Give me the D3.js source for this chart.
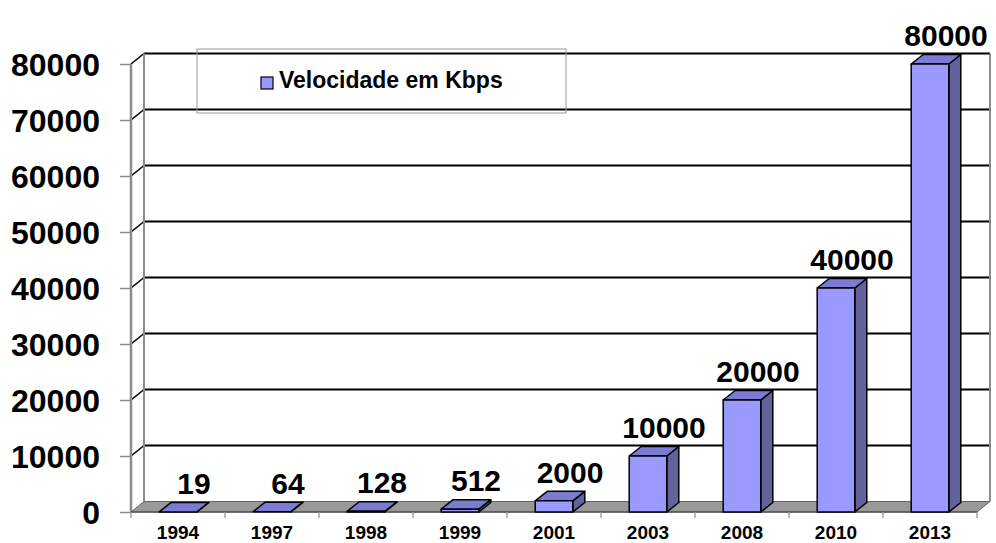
<!DOCTYPE html>
<html>
<head>
<meta charset="utf-8">
<script src="https://cdn.jsdelivr.net/npm/d3@7"></script>
<style>
  html, body { margin: 0; padding: 0; background: #fff; }
  svg { display: block; font-family: Arial, "Liberation Sans", sans-serif; }
</style>
</head>
<body>
<svg id="chart" width="996" height="543"></svg>
<script>
const categories = ["1994", "1997", "1998", "1999", "2001", "2003", "2008", "2010", "2013"];
const values = [19, 64, 128, 512, 2000, 10000, 20000, 40000, 80000];
const valueLabels = ["19", "64", "128", "512", "2000", "10000", "20000", "40000", "80000"];
const yTicks = [0, 10000, 20000, 30000, 40000, 50000, 60000, 70000, 80000];
const seriesName = "Velocidade em Kbps";

(function () {
const svg = d3.select("#chart");

const pL = 131, pR = 977, pB = 512, pT = 64;
const DX = 13, DY = -10.5;      // wall depth
const BDX = 12, BDY = -9.5;     // bar depth

const x = d3.scaleBand().domain(categories).range([pL, pR]).paddingInner(0).paddingOuter(0);
const y = d3.scaleLinear().domain([0, 80000]).range([pB, pT]);

const colFront = "#9999ff", colTop = "#7b7bd4", colSide = "#62629d";
const wallGray = "#8c8c8c";

// Left side wall
svg.append("path")
  .attr("d", `M${pL},${y(80000)} L${pL + DX},${y(80000) + DY} L${pL + DX},${y(0) + DY} L${pL},${y(0)} Z`)
  .attr("fill", "#fff").attr("stroke", "none");
// Back wall
svg.append("rect")
  .attr("x", pL + DX).attr("y", y(80000) + DY)
  .attr("width", pR - pL).attr("height", y(0) - y(80000))
  .attr("fill", "#fff");

// Gridlines: left wall diagonals and back wall horizontals
const grid = svg.append("g");
yTicks.filter(v => v > 0).forEach(v => {
  grid.append("line")
    .attr("x1", pL).attr("y1", y(v)).attr("x2", pL + DX).attr("y2", y(v) + DY)
    .attr("stroke", "#000").attr("stroke-width", 1.6);
  grid.append("line")
    .attr("x1", pL + DX).attr("y1", y(v) + DY).attr("x2", pR + DX).attr("y2", y(v) + DY)
    .attr("stroke", "#000").attr("stroke-width", 2);
});

// wall edges
svg.append("line").attr("x1", pL + DX).attr("y1", y(80000) + DY).attr("x2", pL + DX).attr("y2", y(0) + DY)
  .attr("stroke", wallGray).attr("stroke-width", 2);
svg.append("line").attr("x1", pR + DX).attr("y1", y(80000) + DY).attr("x2", pR + DX).attr("y2", y(0) + DY)
  .attr("stroke", wallGray).attr("stroke-width", 2);
svg.append("line").attr("x1", pL).attr("y1", y(80000)).attr("x2", pL).attr("y2", y(0))
  .attr("stroke", wallGray).attr("stroke-width", 2.5);

// Floor
svg.append("path")
  .attr("d", `M${pL},${y(0)} L${pL + DX},${y(0) + DY} L${pR + DX},${y(0) + DY} L${pR},${y(0)} Z`)
  .attr("fill", "#999999").attr("stroke", "#666").attr("stroke-width", 1);
svg.append("line").attr("x1", pL).attr("y1", y(0)).attr("x2", pR).attr("y2", y(0))
  .attr("stroke", "#555").attr("stroke-width", 1.5);

// Bars
const bw = x.bandwidth() * 0.4;
const bars = svg.append("g");
categories.forEach((c, i) => {
  const v = values[i];
  const x0 = x(c) + (x.bandwidth() - bw) / 2;
  const x1 = x0 + bw;
  const yt = y(v), yb = y(0);
  const g = bars.append("g").attr("stroke", "#000").attr("stroke-width", 1.5).attr("stroke-linejoin", "round");
  g.append("path")
    .attr("d", `M${x1},${yb} L${x1 + BDX},${yb + BDY} L${x1 + BDX},${yt + BDY} L${x1},${yt} Z`)
    .attr("fill", colSide);
  g.append("path")
    .attr("d", `M${x0},${yt} L${x0 + BDX},${yt + BDY} L${x1 + BDX},${yt + BDY} L${x1},${yt} Z`)
    .attr("fill", colTop);
  if (yb - yt > 0.5) {
    g.append("rect").attr("x", x0).attr("y", yt).attr("width", bw).attr("height", yb - yt)
      .attr("fill", colFront);
  }
});

// Value labels
svg.append("g").selectAll("text").data(categories).join("text")
  .attr("x", (c) => x(c) + x.bandwidth() / 2 + 16)
  .attr("y", (c, i) => y(values[i]) - 18)
  .attr("text-anchor", "middle")
  .attr("font-size", 30).attr("font-weight", "bold").attr("fill", "#000")
  .text((c, i) => valueLabels[i]);

// Y axis
const yAxis = d3.axisLeft(y).tickValues(yTicks).tickSize(11).tickPadding(20).tickFormat(d3.format("d"));
const ya = svg.append("g").attr("transform", `translate(${pL},0)`).call(yAxis);
ya.select(".domain").remove();
ya.selectAll(".tick line").attr("stroke", wallGray).attr("stroke-width", 1.5);
ya.selectAll(".tick text").attr("font-size", 32).attr("font-weight", "bold")
  .attr("font-family", "Arial, 'Liberation Sans', sans-serif").attr("fill", "#000").attr("dy", "0.36em");

// X axis labels
const xAxis = d3.axisBottom(x).tickSize(0).tickPadding(14);
const xa = svg.append("g").attr("transform", `translate(0,${pB})`).call(xAxis);
xa.select(".domain").remove();
xa.selectAll(".tick text").attr("font-size", 19).attr("font-weight", "bold")
  .attr("font-family", "Arial, 'Liberation Sans', sans-serif").attr("fill", "#000");
const bounds = categories.map(c => x(c)).concat([pR]);
svg.append("g").selectAll("line").data(bounds).join("line")
  .attr("x1", d => d).attr("x2", d => d).attr("y1", pB).attr("y2", pB + 6)
  .attr("stroke", wallGray).attr("stroke-width", 1.2);

// Legend
const lg = svg.append("g");
lg.append("rect").attr("x", 197).attr("y", 49).attr("width", 369).attr("height", 64)
  .attr("fill", "none").attr("stroke", "#999").attr("stroke-width", 1);
lg.append("rect").attr("x", 261).attr("y", 77).attr("width", 12).attr("height", 12)
  .attr("fill", colFront).attr("stroke", "#000").attr("stroke-width", 1.2);
lg.append("text").attr("x", 279).attr("y", 88).attr("font-size", 23).attr("font-weight", "bold")
  .attr("fill", "#000").text(seriesName);
})();
</script>
</body>
</html>
